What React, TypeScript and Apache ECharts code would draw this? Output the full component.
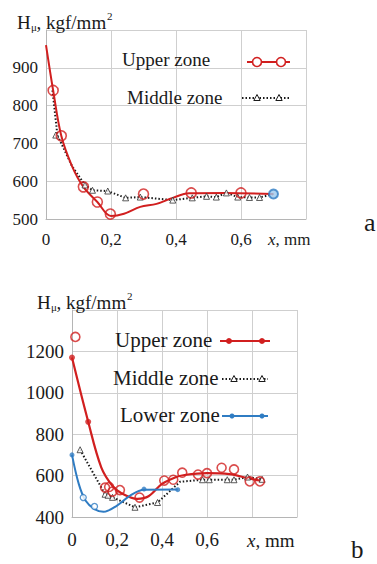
import React, { useEffect, useRef } from "react";
import * as echarts from "echarts";

// ---------- Panel a data ----------
const upperACurve: number[][] = [
  [0, 960], [0.022, 840], [0.047, 720], [0.08, 640], [0.115, 585], [0.158, 545],
  [0.2, 508], [0.24, 514], [0.29, 532], [0.34, 540], [0.39, 556], [0.44, 568],
  [0.55, 569], [0.7, 566],
];
const upperAMarks: number[][] = [
  [0.022, 840], [0.047, 720], [0.115, 585], [0.158, 545], [0.198, 513],
  [0.3, 566], [0.447, 569], [0.6, 569],
];
const middleALine: number[][] = [
  [0.02, 840], [0.035, 722], [0.08, 640], [0.12, 590], [0.143, 576], [0.19, 574],
  [0.245, 556], [0.29, 558], [0.39, 550], [0.45, 556], [0.494, 560], [0.524, 558],
  [0.555, 569], [0.59, 558], [0.626, 557], [0.657, 557], [0.7, 566],
];
const middleAMarks: number[][] = [
  [0.03, 722], [0.12, 590], [0.143, 576], [0.19, 574], [0.245, 556], [0.29, 558],
  [0.39, 550], [0.45, 556], [0.494, 560], [0.524, 558], [0.555, 569], [0.59, 558],
  [0.626, 557], [0.657, 557],
];
const lowerAMarks: number[][] = [[0.7, 566]];

// ---------- Panel b data ----------
const upperBCurve: number[][] = [
  [0, 1170], [0.072, 860], [0.13, 640], [0.18, 550], [0.22, 515], [0.29, 488],
  [0.34, 500], [0.4, 560], [0.46, 592], [0.5, 603], [0.6, 612], [0.7, 607],
  [0.78, 588], [0.84, 575],
];
const upperBDots: number[][] = [[0, 1170], [0.072, 860]];
const upperBCircles: number[][] = [
  [0.015, 1270], [0.147, 542], [0.165, 545], [0.18, 523], [0.213, 530], [0.3, 494],
  [0.41, 576], [0.45, 580], [0.49, 614], [0.56, 605], [0.6, 612], [0.665, 638],
  [0.72, 630], [0.79, 572], [0.835, 572],
];
const middleBLine: number[][] = [
  [0.036, 725], [0.147, 510], [0.18, 495], [0.28, 447], [0.38, 470], [0.48, 570],
  [0.58, 580], [0.61, 580], [0.69, 580], [0.72, 580], [0.78, 593], [0.845, 582],
];
const middleBMarks: number[][] = [
  [0.036, 725], [0.147, 510], [0.16, 505], [0.18, 495], [0.28, 447], [0.38, 470],
  [0.58, 580], [0.61, 580], [0.69, 580], [0.72, 580], [0.78, 593], [0.845, 582],
];
const lowerBCurve: number[][] = [
  [0, 700], [0.03, 560], [0.06, 480], [0.1, 438], [0.14, 425], [0.2, 455],
  [0.26, 505], [0.32, 532], [0.47, 533],
];
const lowerBDots: number[][] = [[0, 700], [0.32, 535], [0.47, 532]];
const lowerBCircles: number[][] = [[0.05, 494], [0.1, 451]];

// ---------- Axis ticks ----------
const xTicksA = ["0", "0,2", "0,4", "0,6"];
const xTicksB = ["0", "0,2", "0,4", "0,6"];
const yMaxLabelA = 900;
const yMaxLabelB = 1200;

const RED = "#d11f1f";
const BLUE = "#2f7cc3";
const DARK = "#1a1a1a";
const FONT = "Liberation Serif";
const GRID_C = "#cfcfcf";

function xLabel(ticks: string[]) {
  return (v: number) => {
    const i = Math.round(v / 0.2);
    return i < ticks.length ? ticks[i] : "";
  };
}

function txt(text: string, x: number, y: number, size: number, extra: any = {}) {
  return {
    type: "text",
    style: {
      text, x, y, fontSize: size, fontFamily: FONT, fill: DARK,
      textAlign: "left", textVerticalAlign: "middle", align: "left", verticalAlign: "middle",
      ...extra,
    },
    z: 100,
  };
}

function title(x: number, y: number) {
  return [
    txt("H", x, y, 19),
    txt("μ", x + 14, y + 5, 11),
    txt(", kgf/mm", x + 19.5, y, 19),
    txt("2", x + 90, y - 6, 11),
  ];
}

function legendItem(label: string, tx: number, ty: number, size: number, x1: number, x2: number, kind: string, m1: number, m2: number) {
  const els: any[] = [txt(label, tx, ty, size)];
  const ly = ty + (kind === "redCircle" ? 3 : 1);
  if (kind === "redCircle") {
    els.push({ type: "line", shape: { x1, y1: ly, x2, y2: ly }, style: { stroke: RED, lineWidth: 2 }, z: 100 });
    [m1, m2].forEach((m) => els.push({ type: "circle", shape: { cx: m, cy: ly, r: 4.5 }, style: { stroke: RED, fill: "#fff", lineWidth: 1.6 }, z: 101 }));
  } else if (kind === "redDot") {
    els.push({ type: "line", shape: { x1, y1: ly, x2, y2: ly }, style: { stroke: RED, lineWidth: 2.2 }, z: 100 });
    [m1, m2].forEach((m) => els.push({ type: "circle", shape: { cx: m, cy: ly, r: 3 }, style: { fill: RED }, z: 101 }));
  } else if (kind === "blueDot") {
    els.push({ type: "line", shape: { x1, y1: ly, x2, y2: ly }, style: { stroke: BLUE, lineWidth: 2 }, z: 100 });
    [m1, m2].forEach((m) => els.push({ type: "circle", shape: { cx: m, cy: ly, r: 2.5 }, style: { fill: BLUE }, z: 101 }));
  } else {
    els.push({ type: "line", shape: { x1, y1: ly, x2, y2: ly }, style: { stroke: DARK, lineWidth: 2, lineDash: [1.5, 2] }, z: 100 });
    [m1, m2].forEach((m) => els.push({ type: "polygon", shape: { points: [[m, ly - 3.5], [m - 3.2, ly + 2.5], [m + 3.2, ly + 2.5]] }, style: { stroke: DARK, fill: "#fff", lineWidth: 1 }, z: 101 }));
  }
  return els;
}

export default function App() {
  const ref = useRef<HTMLDivElement>(null);
  useEffect(() => {
    if (!ref.current) return;
    const chart = echarts.init(ref.current, null, { renderer: "svg" });
    const axisCommon = {
      axisLine: { show: true, lineStyle: { color: "#b5b5b5", width: 1 } },
      axisTick: { show: false },
      splitLine: { show: true, lineStyle: { color: GRID_C, width: 1 } },
    };
    const option: any = {
      animation: false,
      backgroundColor: "#fff",
      textStyle: { fontFamily: FONT },
      grid: [
        { left: 46, top: 30, width: 260, height: 189 },
        { left: 72, top: 310, width: 225, height: 207 },
      ],
      xAxis: [
        {
          gridIndex: 0, type: "value", min: 0, max: 0.8, interval: 0.2, ...axisCommon,
          axisLabel: { formatter: xLabel(xTicksA), fontFamily: FONT, fontSize: 17, color: DARK, margin: 12 },
        },
        {
          gridIndex: 1, type: "value", min: 0, max: 1.0, interval: 0.2, ...axisCommon,
          axisLabel: { formatter: xLabel(xTicksB), fontFamily: FONT, fontSize: 19, color: DARK, margin: 13 },
        },
      ],
      yAxis: [
        {
          gridIndex: 0, type: "value", min: 500, max: 1000, interval: 100, ...axisCommon,
          axisLabel: { formatter: (v: number) => (v <= yMaxLabelA ? String(v) : ""), fontFamily: FONT, fontSize: 17, color: DARK, margin: 8 },
        },
        {
          gridIndex: 1, type: "value", min: 400, max: 1400, interval: 200, ...axisCommon,
          axisLabel: { formatter: (v: number) => (v <= yMaxLabelB ? String(v) : ""), fontFamily: FONT, fontSize: 19, color: DARK, margin: 8 },
        },
      ],
      series: [
        { name: "Upper zone", type: "line", xAxisIndex: 0, yAxisIndex: 0, data: upperACurve, smooth: 0.35, symbol: "none", lineStyle: { color: RED, width: 2 }, z: 3 },
        { name: "Upper zone", type: "scatter", xAxisIndex: 0, yAxisIndex: 0, data: upperAMarks, symbol: "circle", symbolSize: 10, itemStyle: { color: "rgba(255,255,255,0)", borderColor: RED, borderWidth: 1.6 }, z: 4 },
        { name: "Middle zone", type: "line", xAxisIndex: 0, yAxisIndex: 0, data: middleALine, symbol: "none", lineStyle: { color: DARK, width: 2, type: [1.5, 2] }, z: 2 },
        { name: "Middle zone", type: "scatter", xAxisIndex: 0, yAxisIndex: 0, data: middleAMarks, symbol: "triangle", symbolSize: 6, itemStyle: { color: "#fff", borderColor: "#333", borderWidth: 1 }, z: 3 },
        { name: "Lower zone", type: "scatter", xAxisIndex: 0, yAxisIndex: 0, data: lowerAMarks, symbol: "circle", symbolSize: 9, itemStyle: { color: "#9cc8ec", borderColor: BLUE, borderWidth: 2 }, z: 5 },

        { name: "Upper zone", type: "line", xAxisIndex: 1, yAxisIndex: 1, data: upperBCurve, smooth: 0.35, symbol: "none", lineStyle: { color: RED, width: 2.2 }, z: 3 },
        { name: "Upper zone", type: "scatter", xAxisIndex: 1, yAxisIndex: 1, data: upperBDots, symbol: "circle", symbolSize: 6, itemStyle: { color: RED }, z: 4 },
        { name: "Upper zone", type: "scatter", xAxisIndex: 1, yAxisIndex: 1, data: upperBCircles, symbol: "circle", symbolSize: 9, itemStyle: { color: "rgba(255,255,255,0)", borderColor: RED, borderWidth: 1.6 }, z: 4 },
        { name: "Middle zone", type: "line", xAxisIndex: 1, yAxisIndex: 1, data: middleBLine, symbol: "none", lineStyle: { color: DARK, width: 2, type: [1.5, 2] }, z: 2 },
        { name: "Middle zone", type: "scatter", xAxisIndex: 1, yAxisIndex: 1, data: middleBMarks, symbol: "triangle", symbolSize: 6, itemStyle: { color: "#fff", borderColor: "#333", borderWidth: 1 }, z: 3 },
        { name: "Lower zone", type: "line", xAxisIndex: 1, yAxisIndex: 1, data: lowerBCurve, smooth: 0.35, symbol: "none", lineStyle: { color: BLUE, width: 2 }, z: 3 },
        { name: "Lower zone", type: "scatter", xAxisIndex: 1, yAxisIndex: 1, data: lowerBDots, symbol: "circle", symbolSize: 5, itemStyle: { color: BLUE }, z: 4 },
        { name: "Lower zone", type: "scatter", xAxisIndex: 1, yAxisIndex: 1, data: lowerBCircles, symbol: "circle", symbolSize: 6, itemStyle: { color: "#fff", borderColor: BLUE, borderWidth: 1.3 }, z: 4 },
      ],
      graphic: [
        ...title(17, 22),
        ...title(37, 302),
        txt("{i|x}, mm", 268, 239, 17, { rich: { i: { fontStyle: "italic", fontSize: 17, fontFamily: FONT, fill: DARK } } }),
        txt("{i|x}, mm", 247, 540, 19, { rich: { i: { fontStyle: "italic", fontSize: 19, fontFamily: FONT, fill: DARK } } }),
        txt("a", 364, 222, 26),
        txt("b", 351, 549, 25),
        ...legendItem("Upper zone", 122, 59, 19, 247, 290, "redCircle", 257, 281),
        ...legendItem("Middle zone", 127, 97, 19, 242, 289, "dotted", 257, 279),
        ...legendItem("Upper zone", 115, 340, 21, 220, 270, "redDot", 229, 262),
        ...legendItem("Middle zone", 113, 378, 21, 222, 268, "dotted", 234, 262),
        ...legendItem("Lower zone", 120, 415, 21, 222, 268, "blueDot", 232, 262),
      ],
    };
    chart.setOption(option);
    return () => chart.dispose();
  }, []);
  return <div ref={ref} style={{ position: "absolute", left: 0, top: 0, width: 377, height: 564 }} />;
}
